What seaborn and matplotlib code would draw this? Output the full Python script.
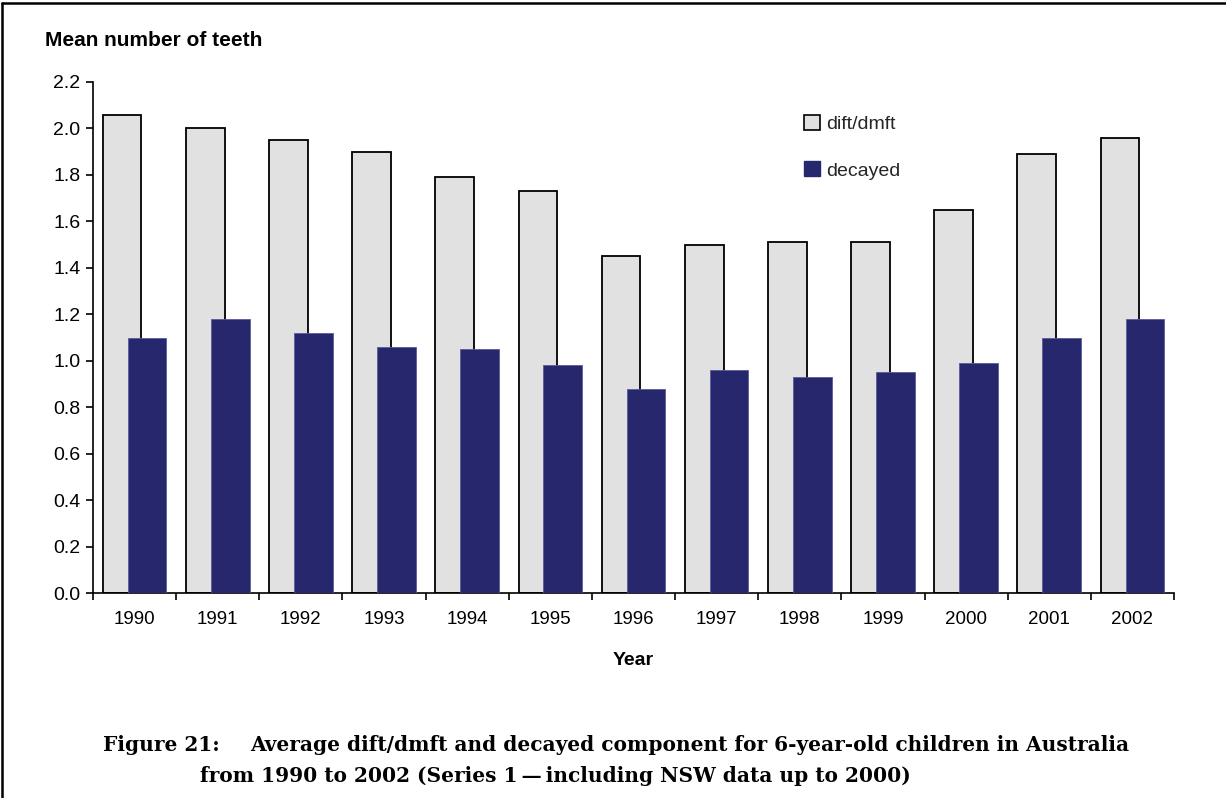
import matplotlib
matplotlib.use("Agg")
import matplotlib.pyplot as plt
from matplotlib.patches import Patch
from matplotlib.lines import Line2D
from matplotlib.ticker import FixedLocator, FormatStrFormatter
import seaborn as sns
import pandas as pd
import numpy as np

# Mean number of teeth for 6-year-old children, Series 1
years = ["1990", "1991", "1992", "1993", "1994", "1995", "1996",
         "1997", "1998", "1999", "2000", "2001", "2002"]
dift_dmft = [2.06, 2.00, 1.95, 1.90, 1.79, 1.73, 1.45,
             1.50, 1.51, 1.51, 1.65, 1.89, 1.96]
decayed = [1.10, 1.18, 1.12, 1.06, 1.05, 0.98, 0.88,
           0.96, 0.93, 0.95, 0.99, 1.10, 1.18]
y_ticks = [0.0, 0.2, 0.4, 0.6, 0.8, 1.0, 1.2, 1.4, 1.6, 1.8, 2.0, 2.2]

df = pd.DataFrame({"year": years, "dift/dmft": dift_dmft, "decayed": decayed})

sns.set_theme(style="white")
plt.rcParams["font.family"] = ["Liberation Sans", "DejaVu Sans"]

GREY = "#e1e1e1"
NAVY = "#27276e"
BAR_W = 0.465
SHIFT = 0.15

fig = plt.figure(figsize=(12.26, 7.98), dpi=100)
ax = fig.add_axes([93 / 1226, 1 - 593 / 798, (1174 - 93) / 1226, (593 - 82) / 798])

# grey bars first, navy bars drawn on top and overlapping to the right
sns.barplot(data=df, x="year", y="dift/dmft", order=years, color=GREY,
            edgecolor="black", linewidth=1.3, width=BAR_W, errorbar=None,
            saturation=1, ax=ax)
n_first = len(ax.patches)
for p in ax.patches:
    p.set_x(p.get_x() - SHIFT)
sns.barplot(data=df, x="year", y="decayed", order=years, color=NAVY,
            edgecolor="#5a5a9a", linewidth=0.6, width=BAR_W, errorbar=None,
            saturation=1, ax=ax)
for p in ax.patches[n_first:]:
    p.set_x(p.get_x() + SHIFT)
    p.set_zorder(3)

ax.set_xlim(-0.5, len(years) - 0.5)
ax.set_ylim(0, 2.2)
ax.yaxis.set_major_locator(FixedLocator(y_ticks))
ax.yaxis.set_major_formatter(FormatStrFormatter("%.1f"))

for side in ("top", "right"):
    ax.spines[side].set_visible(False)
for side in ("left", "bottom"):
    ax.spines[side].set_color("black")
    ax.spines[side].set_linewidth(1.2)

ax.tick_params(axis="y", which="major", direction="out", length=5, width=1.2,
               color="black", labelsize=14, labelcolor="black", pad=4, left=True)
ax.xaxis.set_minor_locator(FixedLocator(np.arange(-0.5, len(years), 1.0)))
ax.tick_params(axis="x", which="minor", direction="out", length=5, width=1.2,
               color="black", bottom=True)
ax.tick_params(axis="x", which="major", length=0, labelsize=13.5,
               labelcolor="black", pad=13)

ax.set_ylabel("")
ax.set_xlabel("Year", fontsize=14, fontweight="bold", color="black", labelpad=17)

fig.text(45 / 1226, 1 - 41 / 798, "Mean number of teeth", fontsize=15,
         fontweight="bold", color="black", va="center", ha="left")

handles = [Patch(facecolor=GREY, edgecolor="black", linewidth=1.2, label="dift/dmft"),
           Patch(facecolor=NAVY, edgecolor=NAVY, label="decayed")]
fig.legend(handles=handles, loc="upper left", bbox_to_anchor=(804 / 1226, 1 - 115 / 798),
           frameon=False, fontsize=14, handlelength=0.8, handleheight=0.8,
           handletextpad=0.35, labelspacing=1.45, borderaxespad=0, borderpad=0)

cap = dict(fontsize=14.5, fontweight="bold", family=["DejaVu Serif"],
           color="black", va="center", ha="left")
fig.text(103 / 1226, 1 - 745 / 798, "Figure 21:", **cap)
fig.text(250 / 1226, 1 - 745 / 798,
         "Average dift/dmft and decayed component for 6-year-old children in Australia", **cap)
fig.text(200 / 1226, 1 - 776 / 798,
         "from 1990 to 2002 (Series 1\u2009\u2014\u2009including NSW data up to 2000)", **cap)

# page frame along the top and left edges
fig.add_artist(Line2D([2 / 1226, 2 / 1226], [0, 1 - 3 / 798], transform=fig.transFigure,
                      color="black", linewidth=1.8))
fig.add_artist(Line2D([2 / 1226, 1], [1 - 3 / 798, 1 - 3 / 798], transform=fig.transFigure,
                      color="black", linewidth=1.8))

fig.savefig("out.png", dpi=100, facecolor="white")
